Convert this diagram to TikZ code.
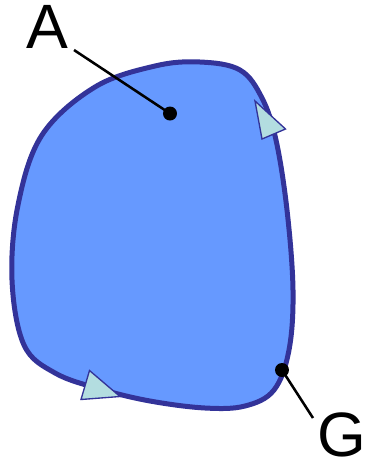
\documentclass[tikz,border=0pt]{standalone}
\usepackage{fontspec}
\setmainfont{Liberation Sans}
\begin{document}
\begin{tikzpicture}[x=0.75pt,y=-0.75pt,
  blob/.style={draw=blobline,fill=blobfill,line width=3.75pt},
  tri/.style={draw=blobline,fill=trifill,line width=1pt,line join=miter},
  dot/.style={circle,fill=black,inner sep=0pt,minimum size=10.5pt},
  lbl/.style={inner sep=0pt,font=\fontsize{47pt}{50pt}\selectfont},
  lead/.style={draw=black,line width=1.9pt}]
\definecolor{blobline}{HTML}{333399}
\definecolor{blobfill}{HTML}{6699FF}
\definecolor{trifill}{HTML}{B3DDE0}
\useasboundingbox (0,0) rectangle (365,462);
\draw[blob] plot[smooth cycle, tension=0.6] coordinates {
 (200,62) (240,70) (262,98) (276,140) (287,210) (293,290) (289,350)
 (274,390) (245,406) (205,408) (150,401) (100,389) (55,373) (24,345)
 (12,280) (18,205) (42,135) (95,87) (155,66)};
\draw[tri] (255,101) -- (285.5,129) -- (262,139) -- cycle;
\draw[tri] (89.5,370.5) -- (120,396.5) -- (81,399.5) -- cycle;
\node[dot] (dA) at (170,113.5) {};
\node[dot] (dG) at (282,370) {};
\node[lbl] (lA) at (47,27) {A};
\node[lbl] (lG) at (342,434.5) {G};
\coordinate (eA) at (74,50);
\coordinate (eG) at (313,418);
\draw[lead] (eA) -- (dA.center);
\draw[lead] (eG) -- (dG.center);
\end{tikzpicture}
\end{document}
